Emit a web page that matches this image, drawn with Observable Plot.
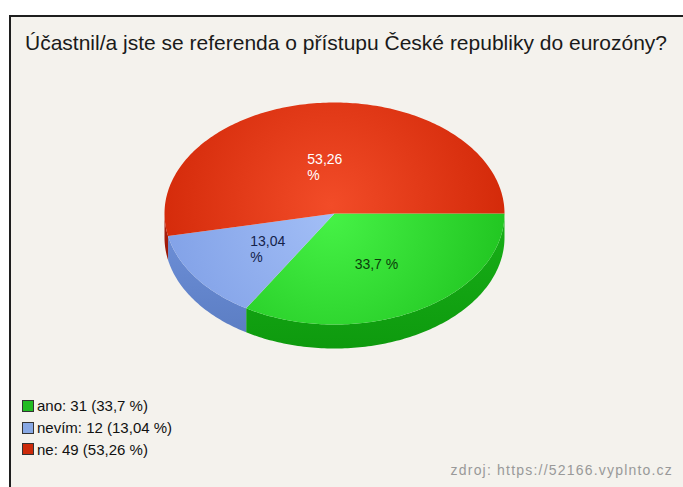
<!DOCTYPE html>
<html>
<head>
<meta charset="utf-8">
<script src="https://cdn.jsdelivr.net/npm/d3@7"></script>
<script src="https://cdn.jsdelivr.net/npm/@observablehq/plot@0.6"></script>
<style>
  html, body { margin: 0; padding: 0; background: #ffffff; }
  body { width: 683px; height: 487px; position: relative; overflow: hidden; font-family: "Liberation Sans", Arial, sans-serif; }
  #frame { position: absolute; left: 9px; top: 15px; width: 690px; height: 490px; border-left: 2px solid #1e1e1e; border-top: 2px solid #1e1e1e; background: #f4f2ed; }
  #title { position: absolute; left: 25px; top: 31px; font-size: 21px; color: #1a1a1a; white-space: nowrap; }
  #chart { position: absolute; left: 0; top: 0; }
  #legend { position: absolute; left: 22px; top: 395px; font-size: 15px; color: #111; }
  .row { height: 21.7px; display: flex; align-items: center; white-space: nowrap; }
  .sw { width: 10px; height: 10px; margin-right: 3px; border: 1px solid #333; }
  #footer { position: absolute; right: 10px; top: 462px; font-size: 14px; letter-spacing: 1.2px; color: #999999; white-space: nowrap; }
</style>
</head>
<body>
<div id="frame"></div>
<svg width="0" height="0" style="position:absolute">
  <defs>
    <radialGradient id="top0" gradientUnits="userSpaceOnUse" cx="330" cy="215" r="185">
      <stop offset="0" stop-color="#46f246"/><stop offset="1" stop-color="#20c420"/>
    </radialGradient>
    <radialGradient id="top1" gradientUnits="userSpaceOnUse" cx="330" cy="215" r="185">
      <stop offset="0" stop-color="#a2bef6"/><stop offset="1" stop-color="#7f9fe6"/>
    </radialGradient>
    <radialGradient id="top2" gradientUnits="userSpaceOnUse" cx="330" cy="205" r="185">
      <stop offset="0" stop-color="#f24c28"/><stop offset="1" stop-color="#d22808"/>
    </radialGradient>
    <linearGradient id="side0" x1="0" y1="0" x2="0" y2="1">
      <stop offset="0" stop-color="#18b018"/><stop offset="1" stop-color="#0e9a0e"/>
    </linearGradient>
    <linearGradient id="side1" x1="0" y1="0" x2="0" y2="1">
      <stop offset="0" stop-color="#6c8ed6"/><stop offset="1" stop-color="#5c7ec4"/>
    </linearGradient>
    <linearGradient id="side2" x1="0" y1="0" x2="0" y2="1">
      <stop offset="0" stop-color="#b02010"/><stop offset="1" stop-color="#981806"/>
    </linearGradient>
  </defs>
</svg>
<div id="chart"></div>
<div id="title">Účastnil/a jste se referenda o přístupu České republiky do eurozóny?</div>
<div id="legend"></div>
<div id="footer">zdroj: https://52166.vyplnto.cz</div>
<script>
// ---- data ----
const categories = ["ano", "nevím", "ne"];
const counts = [31, 12, 49];
const percentLabels = ["33,7 %", "13,04\n%", "53,26\n%"];
const legendLabels = ["ano: 31 (33,7 %)", "nevím: 12 (13,04 %)", "ne: 49 (53,26 %)"];
const swatchColors = ["#22bb22", "#88a8e4", "#cc2a0a"];
const labelColors = ["#0b3d0b", "#14224a", "#ffffff"];

// ---- layout ----
const W = 683, H = 487;
const cx = 334, cy = 213, rx = 170, ry = 111, depth = 24, labelK = 0.47;

const arcs = d3.pie().sort(null).startAngle(0).endAngle(2 * Math.PI)(counts);

function arcPoints(a0, a1, dy) {
  const n = Math.max(2, Math.ceil((a1 - a0) / (Math.PI / 180)));
  const pts = [];
  for (let i = 0; i <= n; i++) {
    const a = a0 + (a1 - a0) * i / n;
    pts.push({x: cx + rx * Math.cos(a), y: cy + ry * Math.sin(a) + dy});
  }
  return pts;
}

const marks = [];
// side walls (front half only)
arcs.forEach((d, i) => {
  const a0 = Math.max(d.startAngle, 0), a1 = Math.min(d.endAngle, Math.PI);
  if (a1 > a0) {
    const pts = arcPoints(a0, a1, 0).concat(arcPoints(a0, a1, depth).reverse());
    marks.push(Plot.line(pts, {x: "x", y: "y", fill: `url(#side${i})`, stroke: "none", curve: "linear"}));
  }
});
// top faces
arcs.forEach((d, i) => {
  const pts = [{x: cx, y: cy}].concat(arcPoints(d.startAngle, d.endAngle, 0));
  marks.push(Plot.line(pts, {x: "x", y: "y", fill: `url(#top${i})`, stroke: "none", curve: "linear"}));
});
// labels
const labelData = arcs.map((d, i) => {
  const m = (d.startAngle + d.endAngle) / 2;
  return {x: cx + labelK * rx * Math.cos(m), y: cy + labelK * ry * Math.sin(m), text: percentLabels[i], color: labelColors[i]};
});
marks.push(Plot.text(labelData, {
  x: "x", y: "y", text: "text", fill: "color", textAnchor: "start", dx: -19, dy: 5,
  fontSize: 14, lineHeight: 1.15, fontFamily: "Liberation Sans, Arial, sans-serif"
}));

const plot = Plot.plot({
  width: W, height: H,
  margin: 0,
  style: {background: "transparent", overflow: "visible"},
  x: {type: "linear", domain: [0, W], range: [0, W], axis: null},
  y: {type: "linear", domain: [0, H], range: [0, H], axis: null},
  color: {type: "identity"},
  marks
});
document.getElementById("chart").appendChild(plot);

// legend
const legend = document.getElementById("legend");
categories.forEach((c, i) => {
  const row = document.createElement("div");
  row.className = "row";
  const sw = document.createElement("span");
  sw.className = "sw";
  sw.style.background = swatchColors[i];
  const t = document.createElement("span");
  t.textContent = legendLabels[i];
  row.appendChild(sw);
  row.appendChild(t);
  legend.appendChild(row);
});
</script>
</body>
</html>
